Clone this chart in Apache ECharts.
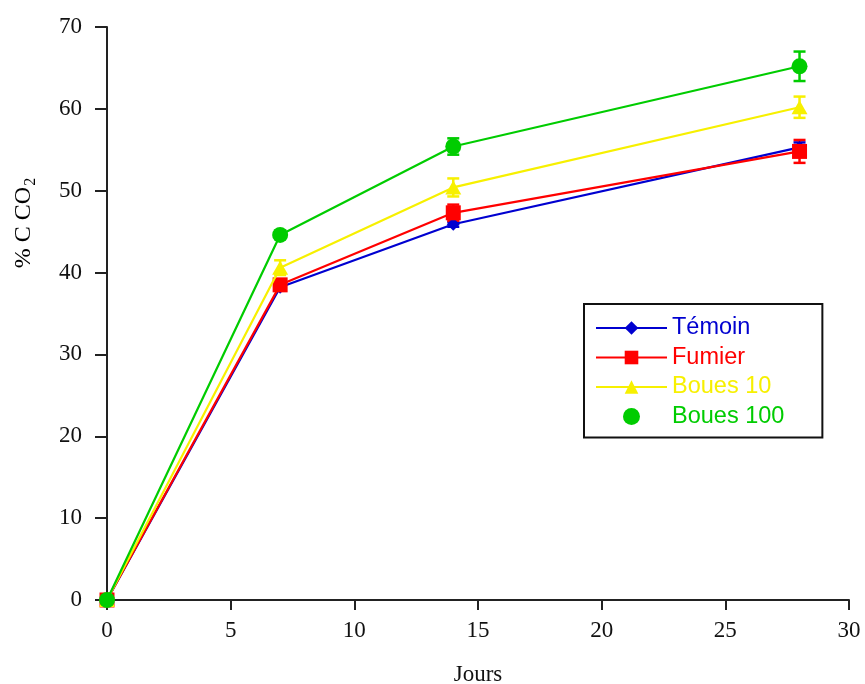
<!DOCTYPE html>
<html>
<head>
<meta charset="utf-8">
<script src="https://cdn.jsdelivr.net/npm/echarts@6/dist/echarts.min.js"></script>
<style>
html,body{margin:0;padding:0;background:#fff;}
#chart{width:865px;height:684px;}
</style>
</head>
<body>
<div id="chart"></div>
<script>
// Data
var days = [0, 7, 14, 28];
var seriesNames = ['Témoin', 'Fumier', 'Boues 10', 'Boues 100'];
var temoin = [0, 38.2, 45.9, 55.3];
var fumier = [0, 38.5, 47.3, 54.8];
var boues10 = [0, 40.6, 50.4, 60.2];
var boues100 = [0, 44.6, 55.4, 65.2];
var errTemoin = [0, 0.3, 0.3, 0.6];
var errFumier = [0, 0.5, 1.0, 1.4];
var errBoues10 = [0, 0.9, 1.1, 1.3];
var errBoues100 = [0, 0.5, 1.0, 1.8];
var xTicks = [0, 5, 10, 15, 20, 25, 30];
var yTicks = [0, 10, 20, 30, 40, 50, 60, 70];

var colors = ['#0000d0', '#ff0000', '#f7f000', '#00cc00'];
var symbols = ['diamond', 'rect', 'triangle', 'circle'];
var symbolSizes = [[13, 13], 15, [16, 14], 16];
var values = [temoin, fumier, boues10, boues100];
var errors = [errTemoin, errFumier, errBoues10, errBoues100];

var chart = echarts.init(document.getElementById('chart'));

function pairs(arr) {
  return days.map(function (d, i) { return [d, arr[i]]; });
}
function errData(vals, errs) {
  return days.map(function (d, i) { return [d, vals[i] - errs[i], vals[i] + errs[i]]; });
}

var series = [];
// error bars
values.forEach(function (vals, k) {
  series.push({
    type: 'custom',
    name: seriesNames[k] + ' err',
    z: 2,
    silent: true,
    data: errData(vals, errors[k]),
    encode: { x: 0, y: [1, 2] },
    renderItem: function (params, api) {
      var x = api.value(0);
      var lo = api.coord([x, api.value(1)]);
      var hi = api.coord([x, api.value(2)]);
      if (Math.abs(hi[1] - lo[1]) < 1) return null;
      var hw = 6;
      var st = { stroke: colors[k], lineWidth: 2.5 };
      return {
        type: 'group',
        children: [
          { type: 'line', shape: { x1: lo[0], y1: lo[1], x2: hi[0], y2: hi[1] }, style: st },
          { type: 'line', shape: { x1: lo[0] - hw, y1: lo[1], x2: lo[0] + hw, y2: lo[1] }, style: st },
          { type: 'line', shape: { x1: hi[0] - hw, y1: hi[1], x2: hi[0] + hw, y2: hi[1] }, style: st }
        ]
      };
    }
  });
});
// lines
values.forEach(function (vals, k) {
  series.push({
    type: 'line',
    name: seriesNames[k],
    data: pairs(vals),
    z: 3 + k,
    symbol: symbols[k],
    symbolSize: symbolSizes[k],
    showAllSymbol: true,
    lineStyle: { color: colors[k], width: 2.2 },
    itemStyle: { color: colors[k], opacity: 1 },
    emphasis: { disabled: true }
  });
});

var legendData = seriesNames.map(function (n, k) {
  var item = { name: n, textStyle: { color: colors[k] } };
  if (k === 3) item.icon = 'circle';
  return item;
});

var serif = 'Liberation Serif, Times New Roman, serif';

chart.setOption({
  animation: false,
  backgroundColor: '#ffffff',
  grid: { left: 107, right: 16, top: 27, bottom: 84, containLabel: false, outerBoundsMode: 'none' },
  legend: {
    left: 584,
    top: 304,
    orient: 'vertical',
    data: legendData,
    itemWidth: 71,
    itemHeight: 17,
    itemGap: 5.5,
    padding: [12, 38, 9, 11],
    borderColor: '#111',
    borderWidth: 2,
    backgroundColor: '#fff',
    selectedMode: false,
    textStyle: { fontFamily: 'Liberation Sans, Arial, sans-serif', fontSize: 23.5 }
  },
  xAxis: {
    type: 'value',
    min: 0,
    max: 30,
    interval: 5,
    name: 'Jours',
    nameLocation: 'middle',
    nameGap: 63,
    nameTextStyle: { fontFamily: serif, fontSize: 23, color: '#111' },
    axisLine: { show: true, onZero: false, lineStyle: { color: '#222', width: 2 } },
    axisTick: { show: true, length: 10, lineStyle: { color: '#222', width: 2 } },
    axisLabel: {
      margin: 19,
      fontFamily: serif,
      fontSize: 23,
      color: '#111',
      formatter: function (v) { return xTicks.indexOf(v) >= 0 ? String(v) : ''; }
    },
    splitLine: { show: false }
  },
  yAxis: {
    type: 'value',
    min: 0,
    max: 70,
    interval: 10,
    axisLine: { show: true, onZero: false, lineStyle: { color: '#222', width: 2 } },
    axisTick: { show: true, length: 12, lineStyle: { color: '#222', width: 2 } },
    axisLabel: {
      margin: 25,
      fontFamily: serif,
      fontSize: 23,
      color: '#111',
      formatter: function (v) { return yTicks.indexOf(v) >= 0 ? String(v) : ''; }
    },
    splitLine: { show: false }
  },
  graphic: [{
    type: 'text',
    x: 24,
    y: 223,
    rotation: Math.PI / 2,
    style: {
      text: '{a|% C CO}{b|2}',
      align: 'center',
      verticalAlign: 'middle',
      rich: {
        a: { fontFamily: serif, fontSize: 24, color: '#111', lineHeight: 30, verticalAlign: 'middle' },
        b: { fontFamily: serif, fontSize: 16, color: '#111', lineHeight: 30, verticalAlign: 'bottom', padding: [10, 0, 0, 1] }
      }
    }
  }],
  series: series
});
</script>
</body>
</html>
